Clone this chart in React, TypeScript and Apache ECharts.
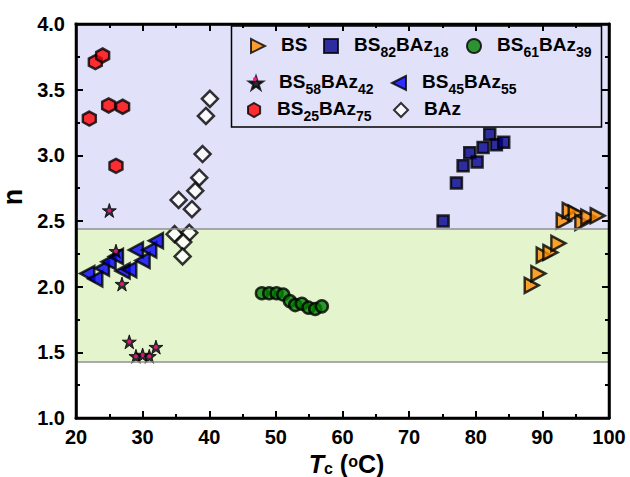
import React, { useEffect, useRef } from "react";
import * as echarts from "echarts";

// Crystallization temperature (°C) vs Avrami exponent n, per blend
const bsData = [[88.4, 2.01], [89.4, 2.10], [90.2, 2.24], [91.2, 2.26], [92.4, 2.33], [93.2, 2.50], [94.1, 2.58], [95.0, 2.56], [96.0, 2.49], [96.9, 2.53], [98.3, 2.54]];
const bs82Data = [[75.1, 2.50], [77.1, 2.79], [78.1, 2.92], [79.1, 3.02], [80.2, 2.95], [81.1, 3.06], [82.1, 3.16], [83.1, 3.08], [84.2, 3.10]];
const bs61Data = [[47.9, 1.95], [49.0, 1.95], [50.1, 1.95], [51.1, 1.94], [52.1, 1.89], [52.9, 1.86], [53.9, 1.87], [54.9, 1.84], [55.9, 1.83], [56.9, 1.85]];
const bs58Data = [[25.0, 2.58], [26.0, 2.27], [26.9, 2.02], [28.0, 1.58], [29.0, 1.47], [30.0, 1.48], [31.0, 1.47], [32.0, 1.54]];
const bs45Data = [[21.7, 2.10], [22.9, 2.06], [23.9, 2.14], [24.9, 2.19], [26.0, 2.23], [27.0, 2.12], [28.0, 2.13], [29.0, 2.28], [30.0, 2.20], [31.0, 2.28], [32.0, 2.35]];
const bs25Data = [[22.0, 3.28], [22.9, 3.71], [24.0, 3.76], [24.9, 3.38], [27.0, 3.37], [26.0, 2.92]];
const bazData = [[40.1, 3.43], [39.5, 3.30], [39.0, 3.01], [38.5, 2.83], [37.9, 2.73], [35.4, 2.66], [37.4, 2.59], [34.8, 2.40], [37.0, 2.41], [36.1, 2.34], [36.0, 2.23]];

// Shaded n-ranges: [lower, boundary, upper]
const bandBounds = [1.43, 2.44, 4.0];

const seriesNames = ["BS", "BS82BAz18", "BS61BAz39", "BS58BAz42", "BS45BAz55", "BS25BAz75", "BAz"];

const FONT = "'Liberation Sans', Arial, Helvetica, sans-serif";
const LAVENDER = "#e1e1fa";
const LIME = "#e4f5cd";

const STAR = "path://M50,0 L61.8,35.5 L99,35.5 L69,57.5 L80.5,93 L50,71 L19.5,93 L31,57.5 L1,35.5 L38.2,35.5 Z";
const HEX = "path://M50,0 L93.3,25 L93.3,75 L50,100 L6.7,75 L6.7,25 Z";
const TRI_RIGHT = "path://M0,0 L100,50 L0,100 Z";
const TRI_LEFT = "path://M100,0 L0,50 L100,100 Z";

// Plot rectangle inside the 630x477 canvas
const GRID = { left: 76, right: 21, top: 24, bottom: 59 };
const W = 630;
const H = 477;
const FRAME_W = 2.5;

// "BS82BAz18" -> rich text with subscripted digits
function richName(name: string): string {
  return name.replace(/([A-Za-z]+)|(\d+)/g, (_m, letters, digits) =>
    letters ? `{m|${letters}}` : `{s|${digits}}`
  );
}

const legendRich = {
  m: { fontSize: 19, fontWeight: "bold", fontFamily: FONT, color: "#000", lineHeight: 22, verticalAlign: "top" },
  s: { fontSize: 14, fontWeight: "bold", fontFamily: FONT, color: "#000", lineHeight: 14, padding: [10, 0, 0, 0], verticalAlign: "top" },
};

// Fresh axis line / tick settings for each axis (ticks on all four sides)
function frameParts() {
  return {
    z: 60,
    axisLine: { show: true, onZero: false, lineStyle: { color: "#000000", width: 2.5, opacity: 1 } },
    axisTick: { show: true, inside: true, length: 7, lineStyle: { color: "#000000", width: 2, opacity: 1 } },
    minorTick: { show: true, splitNumber: 2, length: 4, lineStyle: { color: "#000000", width: 2, opacity: 1 } },
    splitLine: { show: false },
    minorSplitLine: { show: false },
  };
}

// Plot frame as four thin filled bars
function frameBars() {
  const x0 = GRID.left;
  const x1 = W - GRID.right;
  const y0 = GRID.top;
  const y1 = H - GRID.bottom;
  const h = FRAME_W / 2;
  const bars = [
    [x0 - h, y0 - h, x1 - x0 + FRAME_W, FRAME_W],
    [x0 - h, y1 - h, x1 - x0 + FRAME_W, FRAME_W],
    [x0 - h, y0 - h, FRAME_W, y1 - y0 + FRAME_W],
    [x1 - h, y0 - h, FRAME_W, y1 - y0 + FRAME_W],
  ];
  return bars.map(([x, y, w, hh]) => ({
    type: "rect",
    z: 70,
    silent: true,
    shape: { x, y, width: w, height: hh },
    style: { fill: "#000000" },
  }));
}

export default function App() {
  const ref = useRef<HTMLDivElement>(null);

  useEffect(() => {
    if (!ref.current) return;
    const chart = echarts.init(ref.current, null, { renderer: "svg" });

    const border = { borderColor: "#000", borderWidth: 2.5, borderType: "solid" };
    const base = { type: "scatter", z: 3, xAxisIndex: 0, yAxisIndex: 0 };

    const legendPos: [string, number, number, string?][] = [
      ["BS", 250, 35, TRI_RIGHT],
      ["BS82BAz18", 323, 35],
      ["BS61BAz39", 466, 35],
      ["BS58BAz42", 248, 72],
      ["BS45BAz55", 391, 72, TRI_LEFT],
      ["BS25BAz75", 247, 99],
      ["BAz", 393, 99],
    ];

    const option: any = {
      animation: false,
      backgroundColor: "#fff",
      grid: { ...GRID, containLabel: false, outerBoundsMode: "none" },
      legend: legendPos.map(([name, left, top, icon]) => ({
        data: [icon ? { name, icon } : name],
        left,
        top,
        padding: 0,
        itemWidth: 14,
        itemHeight: 14,
        selectedMode: false,
        itemStyle: { borderColor: "#000", borderWidth: 2 },
        formatter: (n: string) => richName(n),
        textStyle: { padding: [0, 0, 0, 11], rich: legendRich },
      })),
      graphic: [
        {
          type: "rect",
          z: 3,
          shape: { x: 231.5, y: 26, width: 370, height: 101 },
          style: { fill: LAVENDER, stroke: "#000", lineWidth: 1.5 },
        },
        {
          type: "circle",
          z: 10,
          shape: { cx: 255, cy: 79, r: 2 },
          style: { fill: "#ff1493" },
        },
        ...frameBars(),
      ],
      xAxis: [
        {
          type: "value",
          min: 20,
          max: 100,
          interval: 10,
          position: "bottom",
          ...frameParts(),
          name: "{i|T}{c|c}{p| (}{o|o}{p|C)}",
          nameLocation: "middle",
          nameGap: 30,
          nameTextStyle: {
            padding: [0, 0, 0, 8],
            rich: {
              i: { fontSize: 25, fontWeight: "bold", fontStyle: "italic", fontFamily: FONT, color: "#000", lineHeight: 28, verticalAlign: "top" },
              c: { fontSize: 16, fontWeight: "bold", fontFamily: FONT, color: "#000", lineHeight: 16, padding: [9, 0, 0, 0], verticalAlign: "top" },
              p: { fontSize: 25, fontWeight: "bold", fontFamily: FONT, color: "#000", lineHeight: 28, verticalAlign: "top" },
              o: { fontSize: 16, fontWeight: "bold", fontFamily: FONT, color: "#000", lineHeight: 16, verticalAlign: "top", padding: [2, 0, 0, 0] },
            },
          },
          axisLabel: { fontSize: 20, fontWeight: "bold", fontFamily: FONT, color: "#000", margin: 9 },
        },
        {
          type: "value",
          min: 20,
          max: 100,
          interval: 10,
          position: "top",
          ...frameParts(),
          axisLabel: { show: false },
        },
      ],
      yAxis: [
        {
          type: "value",
          min: 1,
          max: 4,
          interval: 0.5,
          position: "left",
          ...frameParts(),
          name: "n",
          nameLocation: "middle",
          nameGap: 30,
          nameTextStyle: { fontSize: 27, fontWeight: "bold", fontFamily: FONT, color: "#000", padding: [0, 0, 0, 48] },
          axisLabel: { fontSize: 20, fontWeight: "bold", fontFamily: FONT, color: "#000", margin: 11, formatter: (v: number) => v.toFixed(1) },
        },
        {
          type: "value",
          min: 1,
          max: 4,
          interval: 0.5,
          position: "right",
          ...frameParts(),
          axisLabel: { show: false },
        },
      ],
      series: [
        {
          type: "scatter",
          name: "bands",
          z: -5,
          silent: true,
          data: [],
          markArea: {
            silent: true,
            itemStyle: { borderWidth: 0 },
            data: [
              [{ yAxis: bandBounds[1], itemStyle: { color: LAVENDER } }, { yAxis: bandBounds[2] }],
              [{ yAxis: bandBounds[0], itemStyle: { color: LIME } }, { yAxis: bandBounds[1] }],
            ],
          },
          markLine: {
            silent: true,
            symbol: "none",
            label: { show: false },
            lineStyle: { color: "#8f8f8f", width: 1.5, type: "solid" },
            data: [{ yAxis: bandBounds[0] }, { yAxis: bandBounds[1] }],
          },
        },
        {
          ...base,
          name: seriesNames[0],
          data: bsData,
          symbol: TRI_RIGHT,
          symbolSize: [14, 15],
          itemStyle: { color: "#ff8c00", ...border },
        },
        {
          ...base,
          name: seriesNames[1],
          data: bs82Data,
          symbol: "rect",
          symbolSize: 11,
          itemStyle: { color: "#00008b", ...border },
        },
        {
          ...base,
          name: seriesNames[2],
          data: bs61Data,
          symbol: "circle",
          symbolSize: 12,
          itemStyle: { color: "#008000", ...border },
        },
        {
          ...base,
          name: seriesNames[4],
          data: bs45Data,
          symbol: TRI_LEFT,
          symbolSize: [14, 15],
          itemStyle: { color: "#0000ff", ...border },
        },
        {
          ...base,
          name: seriesNames[3],
          data: bs58Data,
          symbol: STAR,
          symbolSize: 14,
          itemStyle: { color: "#000", borderColor: "#000", borderWidth: 1 },
        },
        {
          ...base,
          name: "bs58-centre",
          data: bs58Data,
          z: 4,
          silent: true,
          symbol: "circle",
          symbolSize: 4,
          itemStyle: { color: "#ff1493" },
        },
        {
          ...base,
          name: seriesNames[5],
          data: bs25Data,
          symbol: HEX,
          symbolSize: [13, 14],
          itemStyle: { color: "#ff0000", ...border },
        },
        {
          ...base,
          name: seriesNames[6],
          data: bazData,
          symbol: "diamond",
          symbolSize: 16,
          itemStyle: { color: "#ffffff", ...border },
        },
      ],
    };

    chart.setOption(option);
    return () => chart.dispose();
  }, []);

  return (
    <div
      ref={ref}
      style={{ position: "fixed", left: 0, top: 0, width: W, height: H }}
    />
  );
}
